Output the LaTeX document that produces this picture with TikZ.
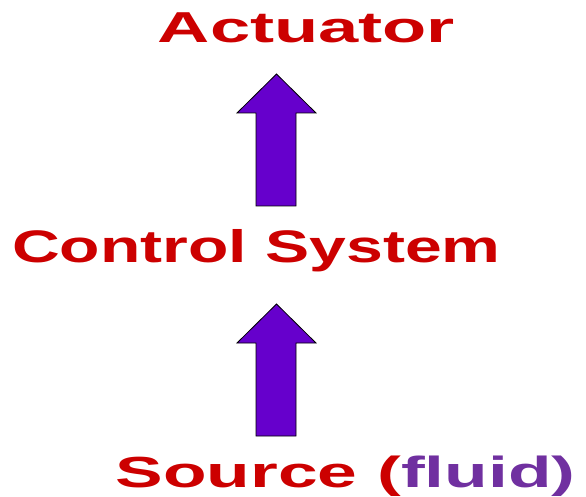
\documentclass[tikz,border=0pt]{standalone}
\usepackage{fontspec}
\setmainfont{Liberation Sans}
\definecolor{txtred}{HTML}{CC0000}
\definecolor{txtpurple}{HTML}{7030A0}
\definecolor{arrfill}{HTML}{6600CC}
\begin{document}
\begin{tikzpicture}[x=1pt,y=-1pt,
  lbl/.style={anchor=base,inner sep=0pt,text=txtred,font=\bfseries},
  blockarrow/.style={fill=arrfill,draw=black,line width=0.8pt,line join=miter}]
\useasboundingbox (0,0) rectangle (586,497);
\node[lbl] (act) at (306.5,43) {\scalebox{1.67}[1]{\fontsize{43.3}{50}\selectfont Actuator}};
\node[lbl] (ctl) at (256.5,262) {\scalebox{1.45}[1]{\fontsize{45.6}{52}\selectfont Control System}};
\node[lbl] (src) at (345.5,487.5) {\scalebox{1.64}[1]{\fontsize{43.5}{50}\selectfont Source (\textcolor{txtpurple}{fluid)}}};
% upper arrow (control system -> actuator)
\coordinate (a1) at (276.5,74);
\draw[blockarrow] (a1) -- (316,113) -- (296,113) -- (296,206) -- (256,206) -- (256,113) -- (237,113) -- cycle;
% lower arrow (source -> control system)
\coordinate (a2) at (276.5,304);
\draw[blockarrow] (a2) -- (316,343) -- (296,343) -- (296,436) -- (256,436) -- (256,343) -- (237,343) -- cycle;
\end{tikzpicture}
\end{document}
